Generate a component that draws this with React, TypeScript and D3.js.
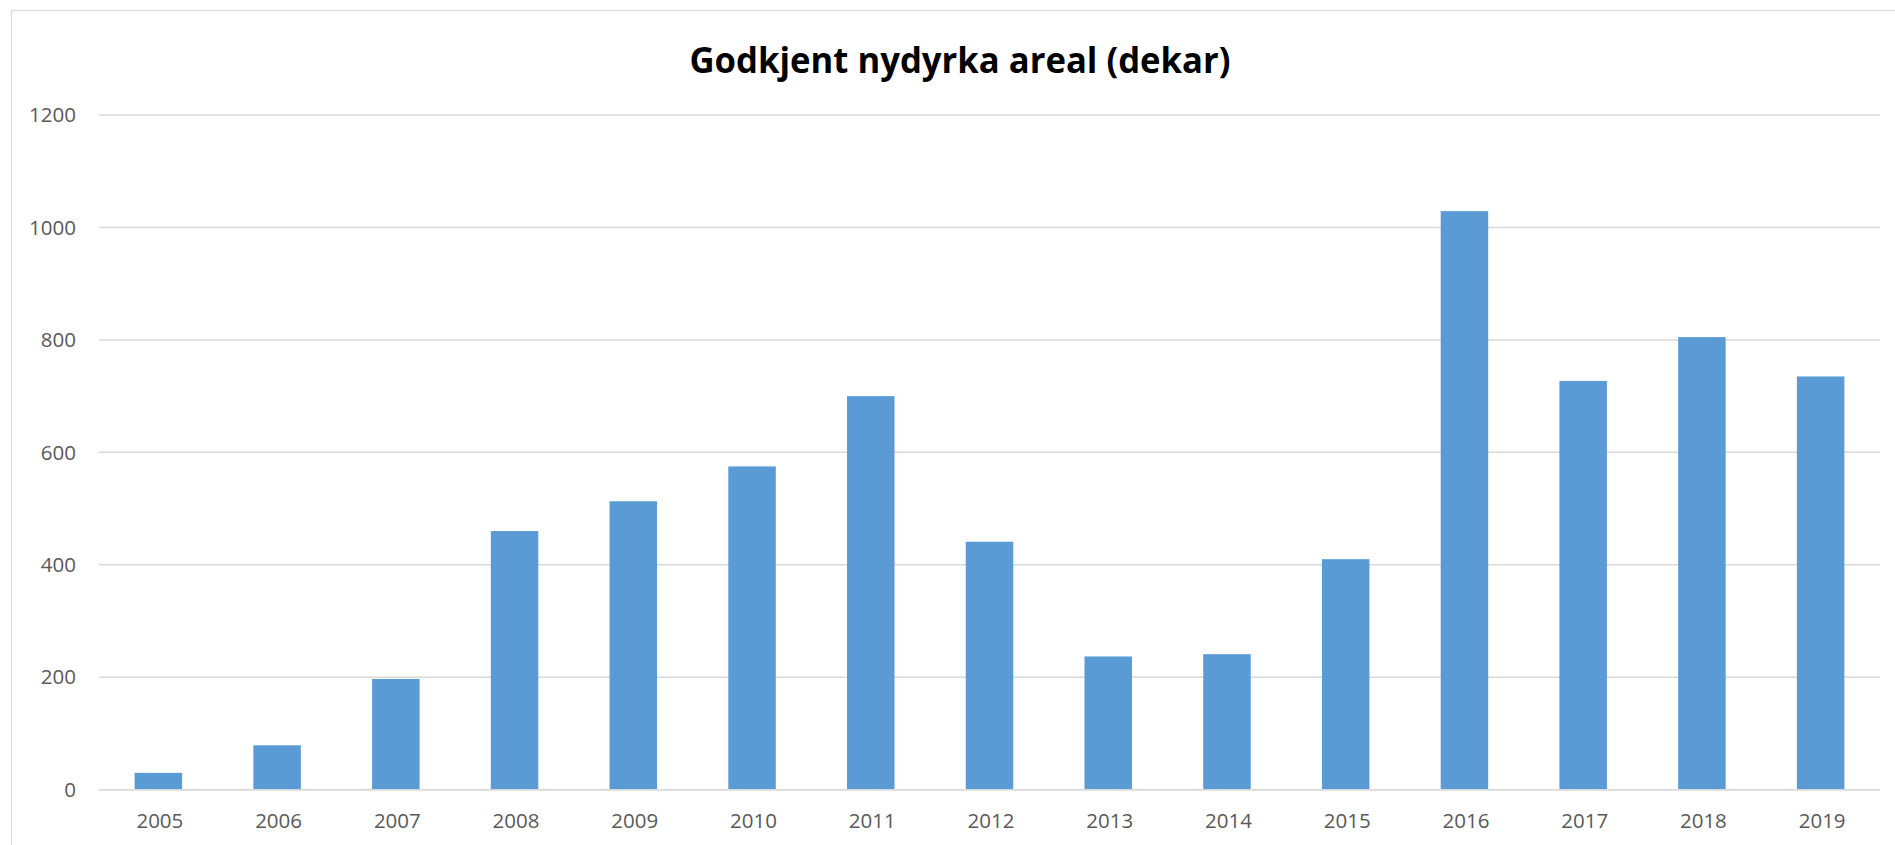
import React from "react";
import * as d3 from "d3";

const years = ["2005","2006","2007","2008","2009","2010","2011","2012","2013","2014","2015","2016","2017","2018","2019"];
const values = [30, 79, 197, 460, 513, 575, 700, 441, 237, 241, 410, 1029, 727, 805, 735];
const yTicks = [0, 200, 400, 600, 800, 1000, 1200];
const title = "Godkjent nydyrka areal (dekar)";

export default function App() {
  const W = 1895, H = 845;
  const x = d3.scaleBand<string>().domain(years).range([99, 1880]).paddingInner(0.6).paddingOuter(0.3);
  const y = d3.scaleLinear().domain([0, 1200]).range([789.7, 115]);
  const font = "'Open Sans', 'Liberation Sans', sans-serif";
  return (
    <svg width={W} height={H} style={{ position: "absolute", left: 0, top: 0, background: "#fff" }}>
      <rect x={0} y={0} width={W} height={H} fill="#fff" />
      <rect x={11.5} y={10.5} width={1900} height={900} fill="none" stroke="#d9d9d9" strokeWidth={1.2} />
      <text x={960} y={73} textAnchor="middle" fontFamily={font} fontWeight="bold" fontSize={36}
        textLength={541} lengthAdjust="spacingAndGlyphs" fill="#000">{title}</text>
      {yTicks.map((t) => (
        <g key={t}>
          <line x1={99} x2={1880} y1={y(t)} y2={y(t)} stroke="#d9d9d9" strokeWidth={1.5} />
          <text x={76} y={y(t)} dy="0.35em" textAnchor="end" fontFamily={font} fontSize={20.5} fill="#595959">{t}</text>
        </g>
      ))}
      {years.map((yr, i) => (
        <rect key={yr} x={x(yr)} y={y(values[i])} width={x.bandwidth()} height={y(0) - y(values[i])} fill="#5b9bd5" />
      ))}
      <line x1={99} x2={1880} y1={y(0)} y2={y(0)} stroke="#d9d9d9" strokeWidth={1.5} />
      {years.map((yr) => (
        <text key={yr} x={(x(yr) as number) + x.bandwidth() / 2 + 1.5} y={828.3} textAnchor="middle" fontFamily={font} fontSize={20.5} fill="#595959">{yr}</text>
      ))}
    </svg>
  );
}
